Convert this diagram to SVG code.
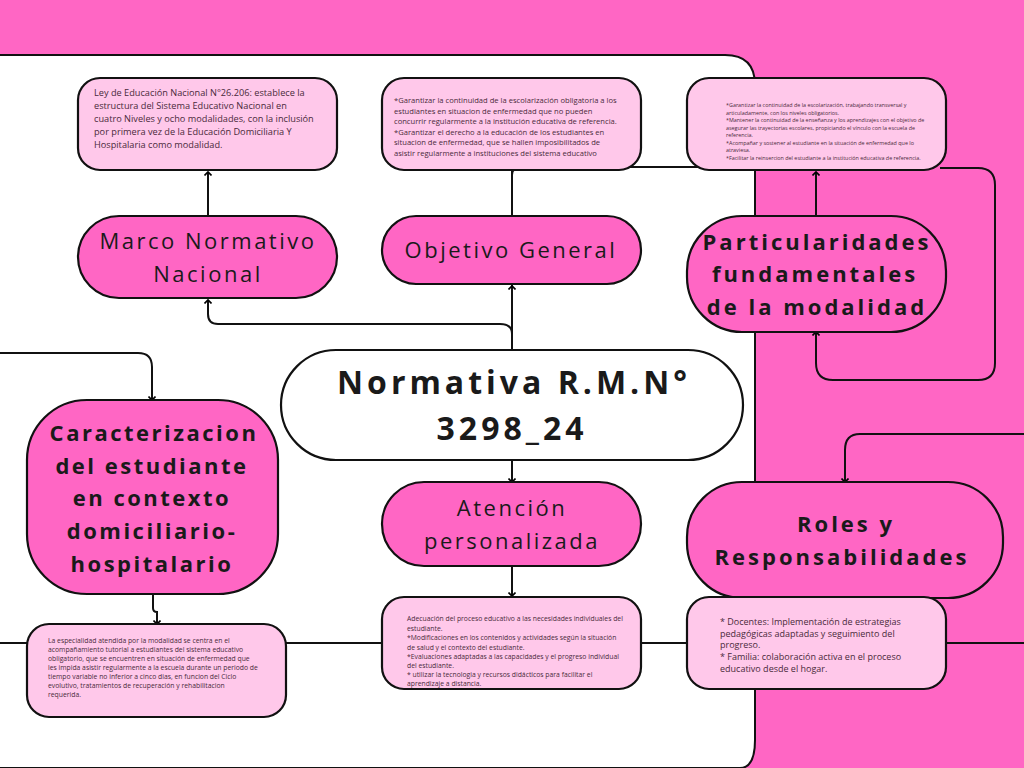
<svg xmlns="http://www.w3.org/2000/svg" width="1024" height="768" viewBox="0 0 1024 768">
<defs>
<marker id="ah" markerWidth="8" markerHeight="8" refX="4" refY="4" orient="auto" markerUnits="userSpaceOnUse"><path d="M0.5,0.5 L4,4 L0.5,7.5" fill="none" stroke="#000" stroke-width="1.6"/></marker>
</defs>
<style>
.pk{fill:#ff66c4;stroke:#111;stroke-width:2.2}
.lt{fill:#ffc8ea;stroke:#111;stroke-width:2.2}
.c{fill:none;stroke:#111;stroke-width:2}
.t{font-family:"Open Sans","Liberation Sans",sans-serif;fill:#1a1a1a;text-anchor:middle}
.s{font-family:"Open Sans","Liberation Sans",sans-serif;fill:#4a2a3a}
</style>
<rect width="1024" height="768" fill="#ff66c4"/>
<path d="M-5,55 H725 Q755,55 755,85 V740 Q755,768 740,768 H-5 Z" fill="#fff" stroke="#111" stroke-width="2"/>
<g id="connectors">
<line class="c" x1="0" y1="643" x2="1024" y2="643"/>
<path class="c" d="M512,350 V175 Q512,167 522,167 H700"/>
<path class="c" d="M512,350 V286" marker-end="url(#ah)"/>
<path class="c" d="M512,216 V162" marker-end="url(#ah)"/>
<path class="c" d="M512,340 V334 Q512,324 500,324 H218 Q208,324 208,314 V300" marker-end="url(#ah)"/>
<path class="c" d="M208,216 V172" marker-end="url(#ah)"/>
<path class="c" d="M816,216 V172" marker-end="url(#ah)"/>
<path class="c" d="M940,168 H978 Q995,168 995,185 V363 Q995,380 978,380 H833 Q816,380 816,363 V332" marker-end="url(#ah)"/>
<path class="c" d="M0,353 H138 Q152,353 152,367 V400" marker-end="url(#ah)"/>
<path class="c" d="M1024,434 H860 Q845,434 845,450 V482" marker-end="url(#ah)"/>
<path class="c" d="M512,460 V482" marker-end="url(#ah)"/>
<path class="c" d="M512,566 V596" marker-end="url(#ah)"/>
<path class="c" d="M153,594 V608 Q153,612 157,612 V624" marker-end="url(#ah)"/>
<path class="c" d="M845,598 H832 M832,596 L820,596" marker-end="url(#ah)"/>
</g>
<g id="ley"><rect class="lt" x="78" y="78" width="259" height="92" rx="22"/>
<text class="s" font-size="9.2"><tspan x="94" y="96">Ley de Educación Nacional N°26.206: establece la</tspan><tspan x="94" y="109">estructura del Sistema Educativo Nacional en</tspan><tspan x="94" y="122">cuatro Niveles y ocho modalidades, con la inclusión</tspan><tspan x="94" y="135">por primera vez de la Educación Domiciliaria Y</tspan><tspan x="94" y="148">Hospitalaria como modalidad.</tspan></text></g>
<g id="objtxt"><rect class="lt" x="382" y="78" width="259" height="92" rx="22"/>
<text class="s" font-size="7.6"><tspan x="394" y="103">*Garantizar la continuidad de la escolarización obligatoria a los</tspan><tspan x="394" y="114">estudiantes en situacion de enfermedad que no pueden</tspan><tspan x="394" y="124">concurrir regularmente a la institución educativa de referencia.</tspan><tspan x="394" y="135">*Garantizar el derecho a la educación de los estudiantes en</tspan><tspan x="394" y="145">situacion de enfermedad, que se hallen imposibilitados de</tspan><tspan x="394" y="156">asistir regularmente a instituciones del sistema educativo</tspan></text></g>
<g id="partxt"><rect class="lt" x="687" y="78" width="259" height="92" rx="22"/>
<text class="s" font-size="5.4"><tspan x="726" y="107">*Garantizar la continuidad de la escolarización, trabajando transversal y</tspan><tspan x="726" y="115">articuladamente, con los niveles obligatorios.</tspan><tspan x="726" y="122">*Mantener la continuidad de la enseñanza y los aprendizajes con el objetivo de</tspan><tspan x="726" y="130">asegurar las trayectorias escolares, propiciando el vínculo con la escuela de</tspan><tspan x="726" y="137">referencia.</tspan><tspan x="726" y="145">*Acompañar y sostener al estudiante en la situación de enfermedad que lo</tspan><tspan x="726" y="152">atraviesa.</tspan><tspan x="726" y="160">*Facilitar la reinsercion del estudiante a la institución educativa de referencia.</tspan></text></g>
<g id="marco"><rect class="pk" x="78" y="216" width="259" height="82" rx="41"/>
<text class="t" font-size="22" letter-spacing="2.5"><tspan x="208" y="249">Marco Normativo</tspan><tspan x="208" y="282">Nacional</tspan></text></g>
<g id="objetivo"><rect class="pk" x="382" y="216" width="259" height="68" rx="34"/>
<text class="t" font-size="22" letter-spacing="2.5" x="511" y="258">Objetivo General</text></g>
<g id="particularidades"><rect class="pk" x="687" y="216" width="259" height="116" rx="55"/>
<text class="t" font-size="22" font-weight="bold" letter-spacing="3"><tspan x="817" y="250">Particularidades</tspan><tspan x="815" y="282">fundamentales</tspan><tspan x="817" y="315">de la modalidad</tspan></text></g>
<g id="normativa"><rect x="281" y="350" width="462" height="110" rx="55" fill="#fff" stroke="#111" stroke-width="2.2"/>
<text class="t" font-size="32" font-weight="bold" letter-spacing="4"><tspan x="514" y="394">Normativa R.M.N°</tspan><tspan x="512" y="440">3298_24</tspan></text></g>
<g id="caracterizacion"><rect class="pk" x="27" y="400" width="251" height="194" rx="60"/>
<text class="t" font-size="22" font-weight="bold" letter-spacing="2.5"><tspan x="154" y="441">Caracterizacion</tspan><tspan x="152" y="474">del estudiante</tspan><tspan x="152" y="506">en contexto</tspan><tspan x="152" y="539">domiciliario-</tspan><tspan x="152" y="572">hospitalario</tspan></text></g>
<g id="atencion"><rect class="pk" x="382" y="482" width="259" height="84" rx="42"/>
<text class="t" font-size="22" letter-spacing="2.5"><tspan x="512" y="516">Atención</tspan><tspan x="512" y="549">personalizada</tspan></text></g>
<g id="roles"><rect class="pk" x="687" y="482" width="316" height="116" rx="55"/>
<text class="t" font-size="22" font-weight="bold" letter-spacing="3"><tspan x="846" y="532">Roles y</tspan><tspan x="842" y="565">Responsabilidades</tspan></text></g>
<g id="cartxt"><rect class="lt" x="27" y="624" width="259" height="93" rx="22"/>
<text class="s" font-size="6.8"><tspan x="48" y="643">La especialidad atendida por la modalidad se centra en el</tspan><tspan x="48" y="652">acompañamiento tutorial a estudiantes del sistema educativo</tspan><tspan x="48" y="661">obligatorio, que se encuentren en situación de enfermedad que</tspan><tspan x="48" y="670">les impida asistir regularmente a la escuela durante un periodo de</tspan><tspan x="48" y="679">tiempo variable no inferior a cinco dias, en funcion del Ciclo</tspan><tspan x="48" y="688">evolutivo, tratamientos de recuperación y rehabilitacion</tspan><tspan x="48" y="697">requerida.</tspan></text></g>
<g id="atetxt"><rect class="lt" x="382" y="597" width="259" height="92" rx="22"/>
<text class="s" font-size="6.8"><tspan x="407" y="621">Adecuación del proceso educativo a las necesidades individuales del</tspan><tspan x="407" y="631">estudiante.</tspan><tspan x="407" y="640">*Modificaciones en los contenidos y actividades según la situación</tspan><tspan x="407" y="650">de salud y el contexto del estudiante.</tspan><tspan x="407" y="659">*Evaluaciones adaptadas a las capacidades y el progreso individual</tspan><tspan x="407" y="668">del estudiante.</tspan><tspan x="407" y="677">* utilizar la tecnologia y recursos didácticos para facilitar el</tspan><tspan x="407" y="686">aprendizaje a distancia.</tspan></text></g>
<g id="roltxt"><rect class="lt" x="687" y="597" width="259" height="92" rx="22"/>
<text class="s" font-size="9"><tspan x="720" y="625">* Docentes: Implementación de estrategias</tspan><tspan x="720" y="637">pedagógicas adaptadas y seguimiento del</tspan><tspan x="720" y="648">progreso.</tspan><tspan x="720" y="660">* Familia: colaboración activa en el proceso</tspan><tspan x="720" y="672">educativo desde el hogar.</tspan></text></g>
</svg>
